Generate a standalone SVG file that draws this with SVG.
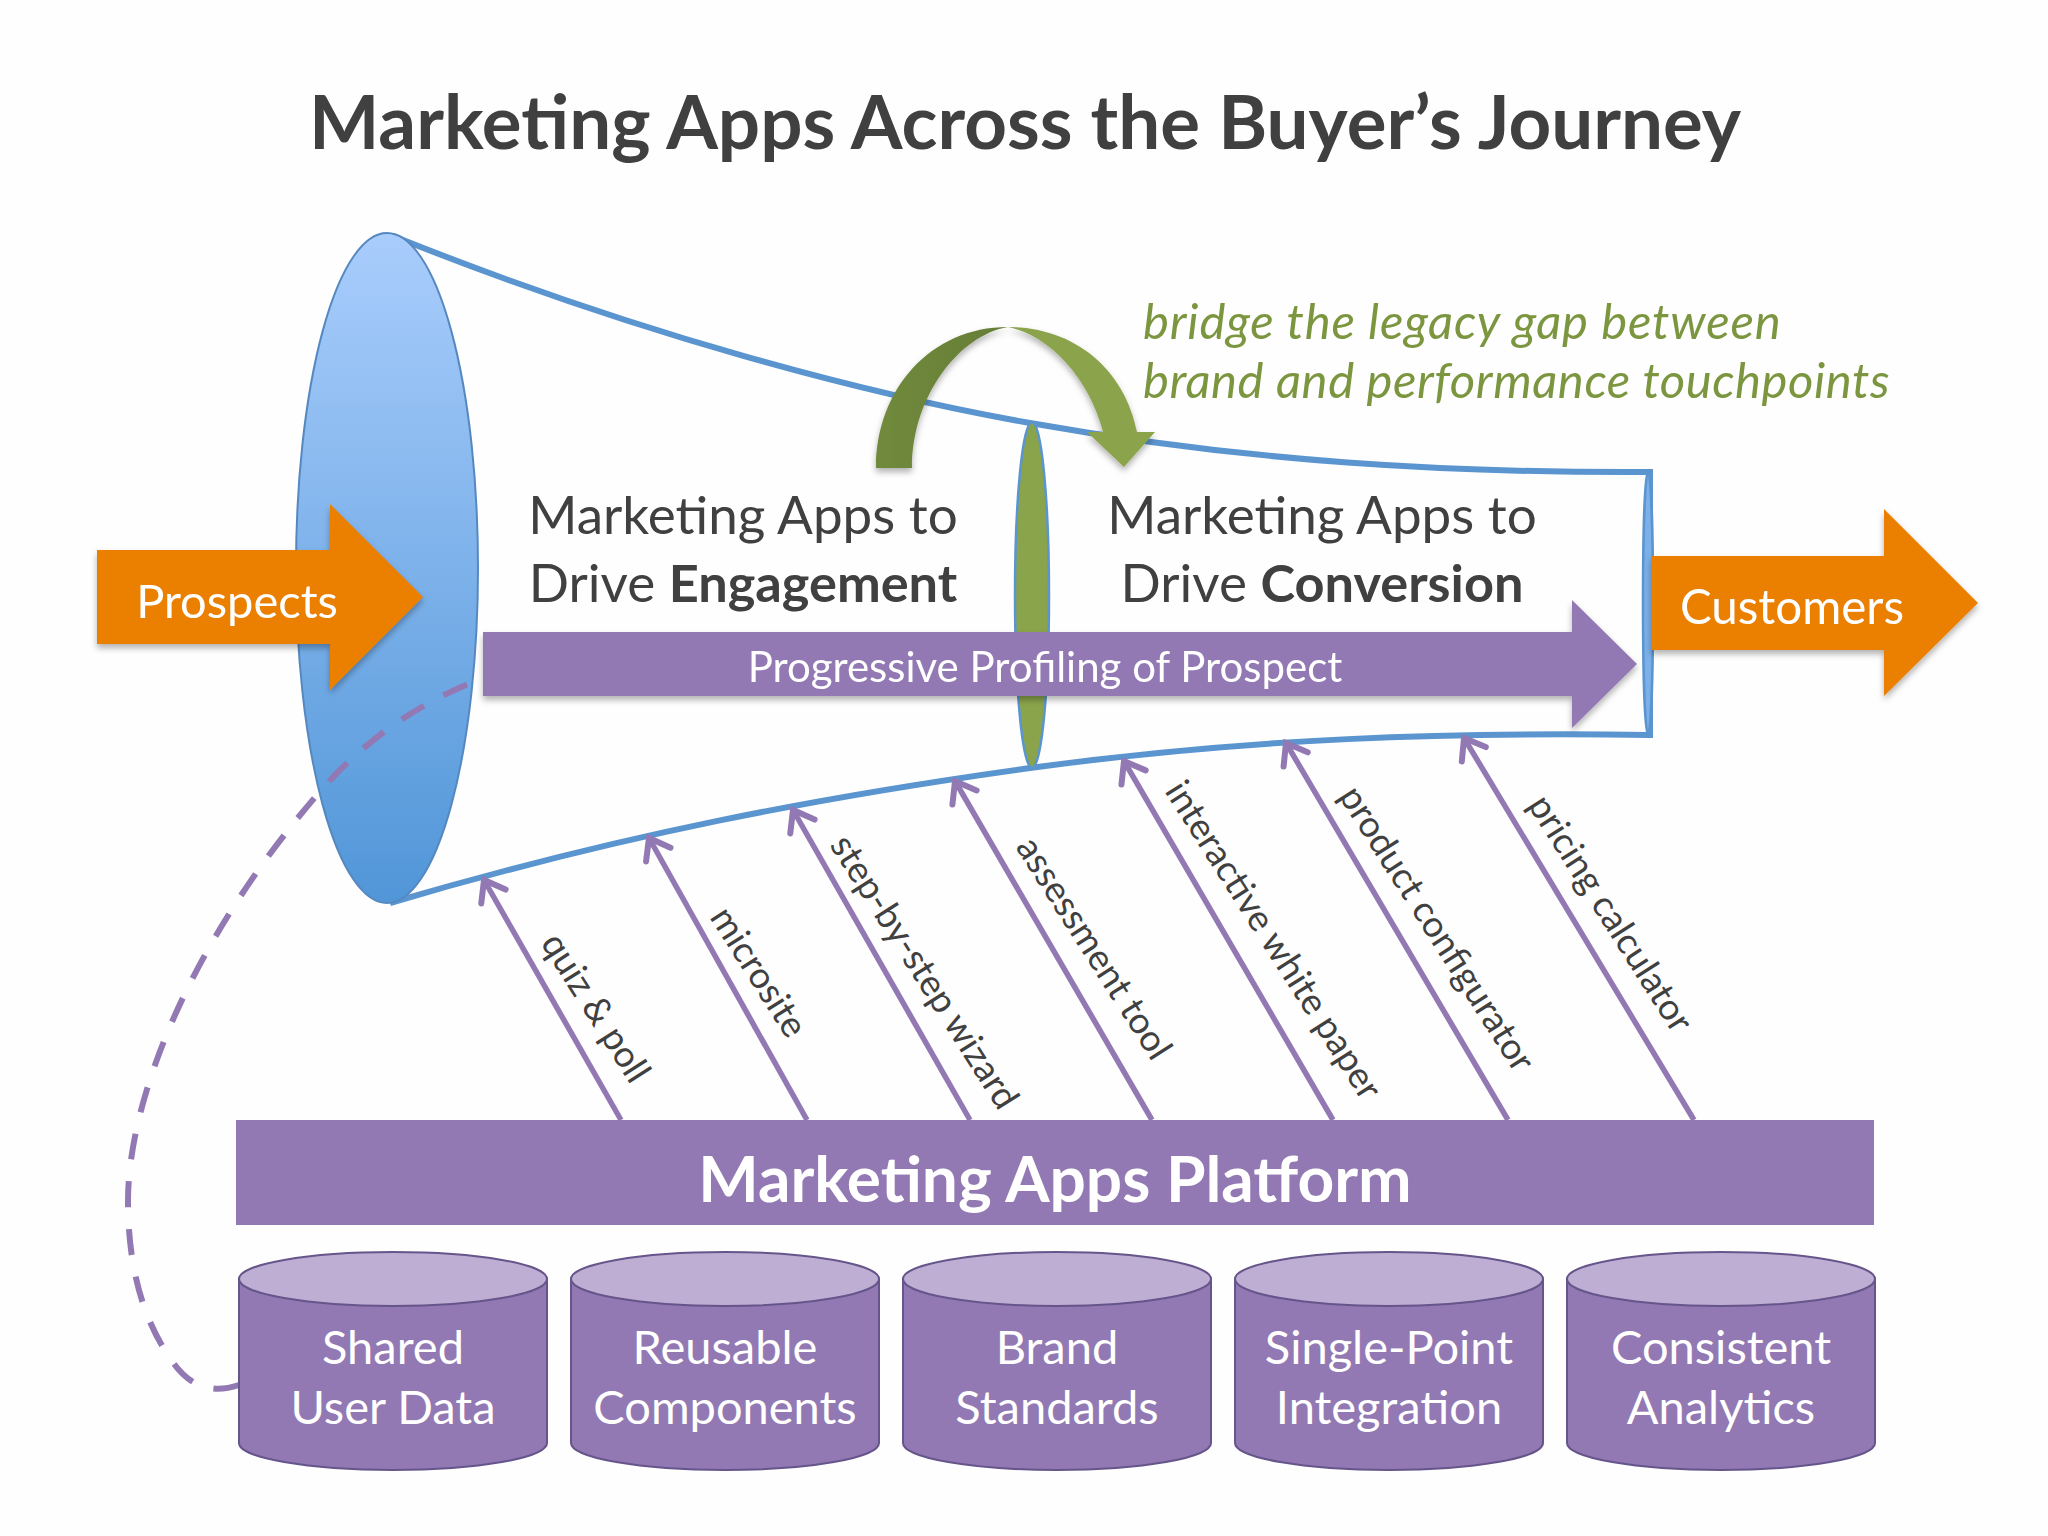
<svg xmlns="http://www.w3.org/2000/svg" width="2048" height="1536" viewBox="0 0 2048 1536">
<style>
text{font-family:Lato,"Carlito","Open Sans",sans-serif;fill:#404040}
.w{fill:#fff}
.m{text-anchor:middle}
.main{font-size:53px}
.b{font-weight:700;font-size:52.3px}
.note{font-size:49px;font-style:italic;fill:#7c9640}
.cyl{font-size:47px;fill:#fff;text-anchor:middle}
.app{font-size:36.5px}
.body{fill:#9279b3;stroke:#65558a;stroke-width:2}
.top{fill:#bfaed3;stroke:#65558a;stroke-width:2}
.lnk{fill:none;stroke:#9279b3;stroke-width:5.5;marker-end:url(#open)}
.fun{fill:none;stroke:#5b95cf;stroke-width:6}
</style>
<defs>
<linearGradient id="blue" x1="0" y1="0" x2="0" y2="1"><stop offset="0" stop-color="#a9cdfc"/><stop offset="1" stop-color="#5196d8"/></linearGradient>
<linearGradient id="dk" x1="0" y1="0" x2="1" y2="0"><stop offset="0" stop-color="#708a3c"/><stop offset="1" stop-color="#667d36"/></linearGradient>
<filter id="sh" x="-10%" y="-10%" width="120%" height="125%"><feDropShadow dx="0" dy="4" stdDeviation="3" flood-color="#000" flood-opacity=".3"/></filter>
<marker id="open" markerUnits="userSpaceOnUse" markerWidth="40" markerHeight="40" refX="25" refY="20" orient="auto"><path d="M6,6 L25,20 L6,34" fill="none" stroke="#9279b3" stroke-width="6" stroke-linecap="round"/></marker>
</defs>
<rect width="2048" height="1536" fill="#fefefe"/>
<text id="title" x="1025" y="149" class="m" style="font-size:74.5px;font-weight:700">Marketing Apps Across the Buyer’s Journey</text>

<g id="funnel-lines">
<path class="fun" d="M393,236 C640,335 870,395 1030,423 C1250,462 1450,473 1650,472 L1650,735 C1450,732 1250,738 1030,768 C820,797 620,835 390,903"/>
</g>
<g id="funnel-mouth"><ellipse cx="387" cy="568" rx="91" ry="335" fill="url(#blue)" stroke="#5688c0" stroke-width="2"/></g>
<g id="funnel-middle"><ellipse cx="1032" cy="595" rx="17" ry="173" fill="#8aa44b" stroke="#5b95cf" stroke-width="2.5"/></g>
<g id="funnel-end"><ellipse cx="1648" cy="603" rx="5" ry="132" fill="#7cb0ea" stroke="#5b95cf" stroke-width="2.5"/></g>

<g id="connectors">
<path d="M239,1385 C215,1393 190,1390 170,1358 C140,1315 128,1260 128,1201 C128,1100 190,940 323,788 C370,735 425,700 483,678" fill="none" stroke="#9279b3" stroke-width="6" stroke-dasharray="26 22"/>
<path class="lnk" d="M621,1120 L484,880"/>
<path class="lnk" d="M807,1120 L649,838"/>
<path class="lnk" d="M970,1120 L793,810"/>
<path class="lnk" d="M1152,1120 L955,781"/>
<path class="lnk" d="M1333,1120 L1124,761"/>
<path class="lnk" d="M1508,1120 L1286,743"/>
<path class="lnk" d="M1694,1120 L1464,738"/>
</g>

<g id="bridge" filter="url(#sh)">
<path d="M876,468 C876,390 930,327 1008,327 C960,335 912,395 912,468 Z" fill="url(#dk)"/>
<path d="M1008,327 C1075,327 1125,370 1137,432 L1155,432 L1124,467 L1087,432 L1103,432 C1090,380 1050,335 1008,327 Z" fill="#8ba34c"/>
</g>
<text id="bridge-label" class="note"><tspan x="1143" y="339" letter-spacing=".85">bridge the legacy gap between</tspan><tspan x="1143" y="398" letter-spacing=".55">brand and performance touchpoints</tspan></text>

<g id="prospects" filter="url(#sh)"><path d="M97,550 H330 V504 L423,597 L330,690 V644 H97 Z" fill="#ea7f04"/><text x="237" y="618" class="w m" style="font-size:47px">Prospects</text></g>
<g id="customers" filter="url(#sh)"><path d="M1651,556 H1884 V509 L1978,603 L1884,696 V650 H1651 Z" fill="#ea7f04"/><text x="1792" y="624" class="w m" style="font-size:47.5px">Customers</text></g>
<g id="profiling" filter="url(#sh)"><path d="M483,632 H1572 V600 L1637,664 L1572,728 V696 H483 Z" fill="#9279b3"/><text x="1045" y="682" class="w m" style="font-size:42px">Progressive Profiling of Prospect</text></g>

<g id="engagement"><text class="main m"><tspan x="743" y="534">Marketing Apps to</tspan><tspan x="743" y="602">Drive <tspan class="b">Engagement</tspan></tspan></text></g>
<g id="conversion"><text class="main m"><tspan x="1322" y="534">Marketing Apps to</tspan><tspan x="1322" y="602">Drive <tspan class="b">Conversion</tspan></tspan></text></g>

<g id="app-labels">
<text class="app" transform="translate(540,943) rotate(57.5)">quiz &amp; poll</text>
<text class="app" transform="translate(709,917) rotate(57.5)">microsite</text>
<text class="app" transform="translate(829,845) rotate(57.5)">step-by-step wizard</text>
<text class="app" transform="translate(1015,847) rotate(57.5)">assessment tool</text>
<text class="app" transform="translate(1164,791) rotate(57.5)">interactive white paper</text>
<text class="app" transform="translate(1338,796) rotate(57.5)">product configurator</text>
<text class="app" transform="translate(1527,805) rotate(57.5)">pricing calculator</text>
</g>

<g id="platform"><rect x="236" y="1120" width="1638" height="105" fill="#9279b3"/><text x="1055" y="1202" class="w m" style="font-size:64px;font-weight:700">Marketing Apps Platform</text></g>

<g id="db-1"><path class="body" d="M239,1279 V1443 A154,27 0 0 0 547,1443 V1279 Z"/><ellipse class="top" cx="393" cy="1279" rx="154" ry="27"/><text class="cyl"><tspan x="393" y="1364">Shared</tspan><tspan x="393" y="1424">User Data</tspan></text></g>
<g id="db-2"><path class="body" d="M571,1279 V1443 A154,27 0 0 0 879,1443 V1279 Z"/><ellipse class="top" cx="725" cy="1279" rx="154" ry="27"/><text class="cyl"><tspan x="725" y="1364">Reusable</tspan><tspan x="725" y="1424">Components</tspan></text></g>
<g id="db-3"><path class="body" d="M903,1279 V1443 A154,27 0 0 0 1211,1443 V1279 Z"/><ellipse class="top" cx="1057" cy="1279" rx="154" ry="27"/><text class="cyl"><tspan x="1057" y="1364">Brand</tspan><tspan x="1057" y="1424">Standards</tspan></text></g>
<g id="db-4"><path class="body" d="M1235,1279 V1443 A154,27 0 0 0 1543,1443 V1279 Z"/><ellipse class="top" cx="1389" cy="1279" rx="154" ry="27"/><text class="cyl"><tspan x="1389" y="1364">Single-Point</tspan><tspan x="1389" y="1424">Integration</tspan></text></g>
<g id="db-5"><path class="body" d="M1567,1279 V1443 A154,27 0 0 0 1875,1443 V1279 Z"/><ellipse class="top" cx="1721" cy="1279" rx="154" ry="27"/><text class="cyl"><tspan x="1721" y="1364">Consistent</tspan><tspan x="1721" y="1424">Analytics</tspan></text></g>
</svg>
